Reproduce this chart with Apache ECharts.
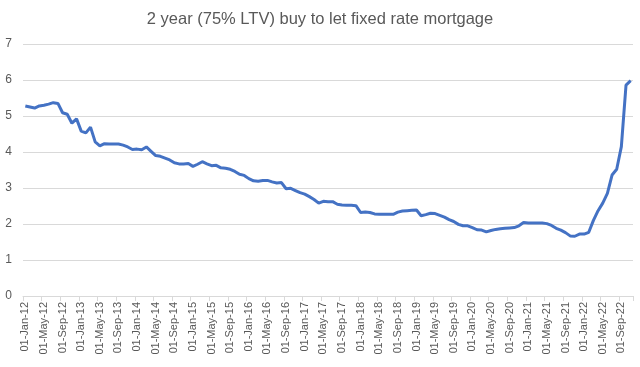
<!DOCTYPE html>
<html>
<head>
<meta charset="utf-8">
<script src="https://cdn.jsdelivr.net/npm/echarts@6/dist/echarts.min.js"></script>
<style>html,body{margin:0;padding:0;background:#fff}#c{width:640px;height:367px}</style>
</head>
<body>
<div id="c"></div>
<script>
const years = [12,13,14,15,16,17,18,19,20,21,22];
const monthNames = ['Jan','Feb','Mar','Apr','May','Jun','Jul','Aug','Sep','Oct','Nov','Dec'];
const categories = [];
for (const y of years) for (const m of monthNames) {
  if (y === 22 && m === 'Dec') continue;
  categories.push('01-' + m + '-' + y);
}
const rates = [
  5.28,5.25,5.22,5.28,5.30,5.33,5.37,5.35,5.09,5.05,4.80,4.92,
  4.58,4.53,4.69,4.28,4.17,4.23,4.22,4.22,4.22,4.19,4.14,4.07,
  4.08,4.06,4.14,4.02,3.90,3.88,3.83,3.78,3.70,3.67,3.67,3.68,
  3.60,3.66,3.73,3.67,3.62,3.63,3.56,3.55,3.52,3.46,3.38,3.35,
  3.26,3.20,3.19,3.21,3.21,3.17,3.14,3.15,2.98,2.99,2.93,2.87,
  2.83,2.76,2.68,2.58,2.63,2.62,2.62,2.55,2.53,2.52,2.52,2.51,
  2.32,2.33,2.32,2.28,2.27,2.27,2.27,2.27,2.33,2.36,2.37,2.38,
  2.39,2.23,2.26,2.30,2.29,2.24,2.19,2.12,2.07,1.99,1.95,1.95,
  1.90,1.84,1.83,1.78,1.82,1.85,1.87,1.88,1.89,1.90,1.95,2.04,
  2.03,2.03,2.03,2.03,2.01,1.96,1.88,1.83,1.76,1.67,1.66,1.72,
  1.72,1.77,2.10,2.37,2.58,2.85,3.36,3.52,4.15,5.86,5.98
];
const yTicks = { min: 0, max: 7, interval: 1 };
const chart = echarts.init(document.getElementById('c'));
chart.setOption({
  animation: false,
  title: {
    text: '2 year (75% LTV) buy to let fixed rate mortgage',
    left: 'center', top: 6,
    textStyle: { fontFamily: 'Liberation Sans', fontSize: 16.5, fontWeight: 'normal', color: '#595959' }
  },
  grid: { left: 23, right: 7, top: 44, bottom: 71 },
  xAxis: {
    type: 'category',
    data: categories,
    boundaryGap: true,
    axisLine: { lineStyle: { color: '#d9d9d9', width: 1 } },
    axisTick: { show: true, interval: 3, length: 5, lineStyle: { color: '#d9d9d9' } },
    axisLabel: { interval: 3, rotate: 90, margin: 6, color: '#595959', fontFamily: 'Liberation Sans', fontSize: 11 }
  },
  yAxis: {
    type: 'value',
    min: yTicks.min, max: yTicks.max, interval: yTicks.interval,
    axisLine: { show: false },
    axisTick: { show: false },
    axisLabel: { margin: 11, color: '#595959', fontFamily: 'Liberation Sans', fontSize: 12 },
    splitLine: { lineStyle: { color: '#d9d9d9', width: 1 } }
  },
  series: [{
    type: 'line',
    data: rates,
    symbol: 'none',
    lineStyle: { color: '#4472C4', width: 3 },
    itemStyle: { color: '#4472C4' }
  }]
});
</script>
</body>
</html>
